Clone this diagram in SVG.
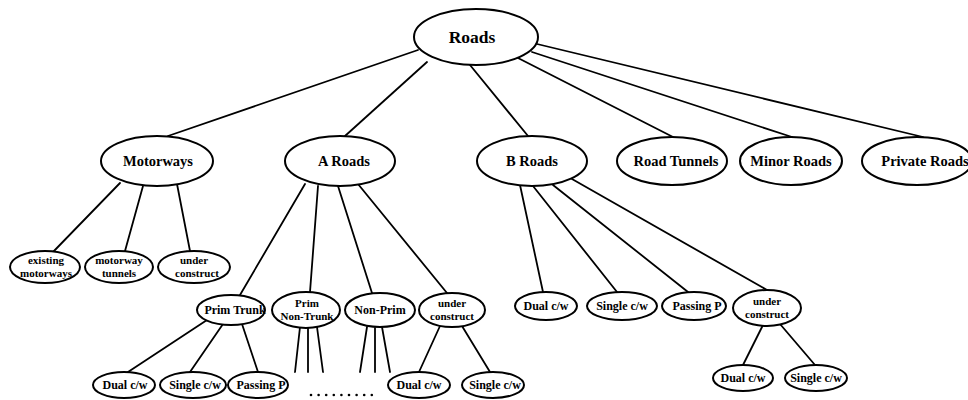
<svg xmlns="http://www.w3.org/2000/svg" width="968" height="400" viewBox="0 0 968 400">
<style>
.n ellipse{fill:#fff;stroke:#000;stroke-width:2}
.e line{stroke:#000;stroke-width:1.8;stroke-linecap:round}
text{font-family:"Liberation Serif","Times New Roman",serif;font-weight:bold;fill:#000;text-anchor:middle}
.t0{font-size:17.5px}
.t1{font-size:14.5px}
.t2{font-size:12px}
.t3{font-size:11px}
</style>
<rect width="968" height="400" fill="#fff"/>
<g id="connectors" class="e">
<line x1="418" y1="50" x2="168" y2="136"/>
<line x1="427" y1="62" x2="345" y2="136"/>
<line x1="470" y1="65" x2="528" y2="136"/>
<line x1="518" y1="58" x2="673" y2="137"/>
<line x1="532" y1="52" x2="792" y2="137"/>
<line x1="537" y1="44" x2="923" y2="137"/>
<line x1="120" y1="183" x2="53" y2="252"/>
<line x1="143" y1="186" x2="125" y2="251"/>
<line x1="177" y1="184" x2="190" y2="251"/>
<line x1="305" y1="184" x2="240" y2="295"/>
<line x1="318" y1="186" x2="310" y2="292"/>
<line x1="338" y1="186" x2="372" y2="293"/>
<line x1="358" y1="184" x2="447" y2="293"/>
<line x1="520" y1="185" x2="543" y2="292"/>
<line x1="533" y1="186" x2="617" y2="292"/>
<line x1="553" y1="185" x2="688" y2="292"/>
<line x1="572" y1="179" x2="767" y2="290"/>
<line x1="207" y1="320" x2="128" y2="372"/>
<line x1="223" y1="324" x2="190" y2="372"/>
<line x1="242" y1="324" x2="258" y2="372"/>
<line x1="300" y1="327" x2="295" y2="372"/>
<line x1="308" y1="328" x2="308" y2="372"/>
<line x1="317" y1="327" x2="323" y2="372"/>
<line x1="367" y1="327" x2="360" y2="372"/>
<line x1="375" y1="328" x2="375" y2="372"/>
<line x1="382" y1="327" x2="390" y2="372"/>
<line x1="440" y1="326" x2="419" y2="372"/>
<line x1="462" y1="326" x2="490" y2="372"/>
<line x1="763" y1="325" x2="743" y2="365"/>
<line x1="780" y1="324" x2="815" y2="365"/>
</g>
<g id="dots" fill="#000">
<circle cx="311" cy="395" r="1.3"/><circle cx="318.6" cy="395" r="1.3"/><circle cx="326.2" cy="395" r="1.3"/><circle cx="333.8" cy="395" r="1.3"/><circle cx="341.4" cy="395" r="1.3"/><circle cx="349" cy="395" r="1.3"/><circle cx="356.6" cy="395" r="1.3"/><circle cx="364.2" cy="395" r="1.3"/><circle cx="371.8" cy="395" r="1.3"/>
</g>
<g id="roads" class="n"><ellipse cx="476" cy="37" rx="62" ry="28"/><text class="t0" x="472" y="43">Roads</text></g>
<g id="motorways" class="n"><ellipse cx="157" cy="161" rx="56" ry="25"/><text class="t1" x="158" y="166">Motorways</text></g>
<g id="a-roads" class="n"><ellipse cx="340" cy="161" rx="55" ry="25"/><text class="t1" x="344" y="166">A Roads</text></g>
<g id="b-roads" class="n"><ellipse cx="532" cy="161" rx="55" ry="25"/><text class="t1" x="532" y="166">B Roads</text></g>
<g id="road-tunnels" class="n"><ellipse cx="672" cy="161" rx="55" ry="24"/><text class="t1" x="676" y="166">Road Tunnels</text></g>
<g id="minor-roads" class="n"><ellipse cx="791" cy="161" rx="51" ry="24"/><text class="t1" x="791" y="166">Minor Roads</text></g>
<g id="private-roads" class="n"><ellipse cx="917" cy="161" rx="55" ry="24"/><text class="t1" x="925" y="166">Private Roads</text></g>
<g id="mw-existing" class="n"><ellipse cx="45" cy="267" rx="35" ry="16"/><text class="t3" x="46" y="264">existing</text><text class="t3" x="46" y="277">motorways</text></g>
<g id="mw-tunnels" class="n"><ellipse cx="119" cy="267" rx="34" ry="16"/><text class="t3" x="119" y="264">motorway</text><text class="t3" x="119" y="277">tunnels</text></g>
<g id="mw-under" class="n"><ellipse cx="194" cy="267" rx="36" ry="16"/><text class="t3" x="194" y="264">under</text><text class="t3" x="197" y="277">construct</text></g>
<g id="a-prim-trunk" class="n"><ellipse cx="231" cy="310" rx="34" ry="15"/><text class="t2" x="235" y="314">Prim Trunk</text></g>
<g id="a-prim-non-trunk" class="n"><ellipse cx="306" cy="310" rx="34" ry="18"/><text class="t3" x="307" y="307">Prim</text><text class="t3" x="307" y="320">Non-Trunk</text></g>
<g id="a-non-prim" class="n"><ellipse cx="380" cy="310" rx="35" ry="17"/><text class="t2" x="380" y="314">Non-Prim</text></g>
<g id="a-under" class="n"><ellipse cx="452" cy="310" rx="33" ry="17"/><text class="t3" x="452" y="307">under</text><text class="t3" x="452" y="320">construct</text></g>
<g id="b-dual" class="n"><ellipse cx="546" cy="306" rx="31" ry="14"/><text class="t2" x="546" y="310">Dual c/w</text></g>
<g id="b-single" class="n"><ellipse cx="622" cy="306" rx="35" ry="14"/><text class="t2" x="622" y="310">Single c/w</text></g>
<g id="b-passing" class="n"><ellipse cx="694" cy="306" rx="32" ry="14"/><text class="t2" x="697" y="310">Passing P</text></g>
<g id="b-under" class="n"><ellipse cx="767" cy="308" rx="34" ry="18"/><text class="t3" x="767" y="305">under</text><text class="t3" x="767" y="318">construct</text></g>
<g id="bu-dual" class="n"><ellipse cx="743" cy="378" rx="30" ry="13"/><text class="t2" x="743" y="382">Dual c/w</text></g>
<g id="bu-single" class="n"><ellipse cx="816" cy="378" rx="31" ry="13"/><text class="t2" x="816" y="382">Single c/w</text></g>
<g id="pt-dual" class="n"><ellipse cx="124" cy="385" rx="31" ry="13"/><text class="t2" x="125" y="389">Dual c/w</text></g>
<g id="pt-single" class="n"><ellipse cx="193" cy="385" rx="33" ry="13"/><text class="t2" x="195" y="389">Single c/w</text></g>
<g id="pt-passing" class="n"><ellipse cx="258" cy="385" rx="30" ry="13"/><text class="t2" x="261" y="389">Passing P</text></g>
<g id="au-dual" class="n"><ellipse cx="419" cy="385" rx="31" ry="13"/><text class="t2" x="419" y="389">Dual c/w</text></g>
<g id="au-single" class="n"><ellipse cx="493" cy="385" rx="31" ry="13"/><text class="t2" x="495" y="389">Single c/w</text></g>
</svg>
